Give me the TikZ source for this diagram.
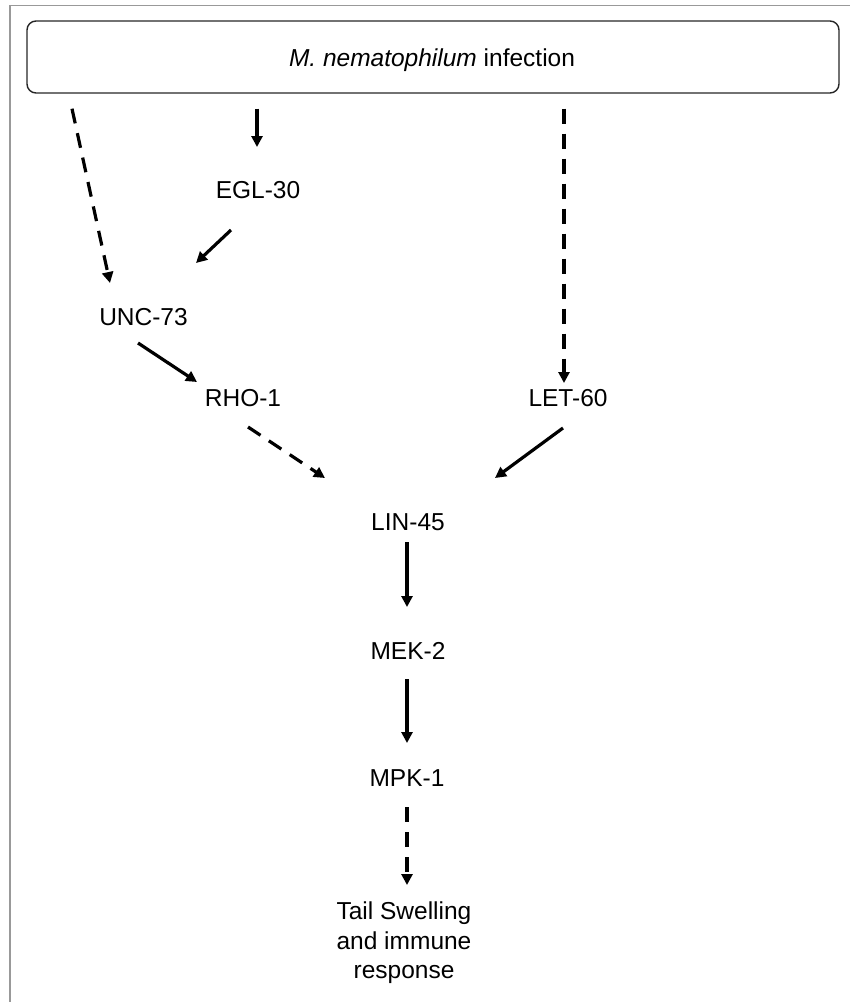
\documentclass[tikz,border=0pt]{standalone}
\usepackage{fontspec}
\setmainfont{Liberation Sans}
\usetikzlibrary{arrows.meta}
\begin{document}
\begin{tikzpicture}[x=1pt,y=-1pt,
  lbl/.style={inner sep=0pt,font=\fontsize{24.5}{29.5}\selectfont},
  solidarrow/.style={line width=3.2pt,-{Triangle[length=11pt,width=11pt]}},
  dasharrow/.style={solidarrow,dash pattern=on 15pt off 10pt},
  frameline/.style={draw=black!40,line width=1.4pt}]
\useasboundingbox (0,0) rectangle (856,1002);
\draw[frameline] (10,1002) -- (10,5.3) -- (850,5.3);
\node[draw=black!85,line width=1.4pt,rounded corners=9pt,minimum width=812pt,minimum height=72pt,inner sep=0pt] (box) at (433,57) {};
\node[lbl] (title) at (432,60) {\textit{M. nematophilum} infection};
\node[lbl] (egl) at (258,190) {EGL-30};
\node[lbl] (unc) at (143.5,317) {UNC-73};
\node[lbl] (rho) at (243,398) {RHO-1};
\node[lbl] (let) at (568,398) {LET-60};
\node[lbl] (lin) at (408,522) {LIN-45};
\node[lbl] (mek) at (408,651) {MEK-2};
\node[lbl] (mpk) at (407,778) {MPK-1};
\node[lbl,align=center] (tail) at (404,943) {Tail Swelling\\and immune\\response};
\draw[dasharrow] ([shift={(-361,15)}]box.south) -- ([shift={(-33.5,-34)}]unc.center);
\draw[solidarrow] ([shift={(-176,15)}]box.south) -- ([shift={(-1,-43)}]egl.center);
\draw[dasharrow] ([shift={(131,15)}]box.south) -- ([shift={(-4,-15)}]let.center);
\draw[solidarrow] ([shift={(-27,40)}]egl.center) -- ([shift={(52.5,-54)}]unc.center);
\draw[solidarrow] ([shift={(-5.5,26)}]unc.center) -- ([shift={(-46,-16)}]rho.center);
\draw[dasharrow] ([shift={(5,29)}]rho.center) -- ([shift={(-83,-44)}]lin.center);
\draw[solidarrow] ([shift={(-5,30)}]let.center) -- ([shift={(87,-44)}]lin.center);
\draw[solidarrow] ([shift={(-1,20)}]lin.center) -- ([shift={(-1,-44)}]mek.center);
\draw[solidarrow] ([shift={(-1,28)}]mek.center) -- ([shift={(0,-35)}]mpk.center);
\draw[dasharrow] ([shift={(0,29)}]mpk.center) -- ([shift={(3,-58)}]tail.center);
\end{tikzpicture}
\end{document}
